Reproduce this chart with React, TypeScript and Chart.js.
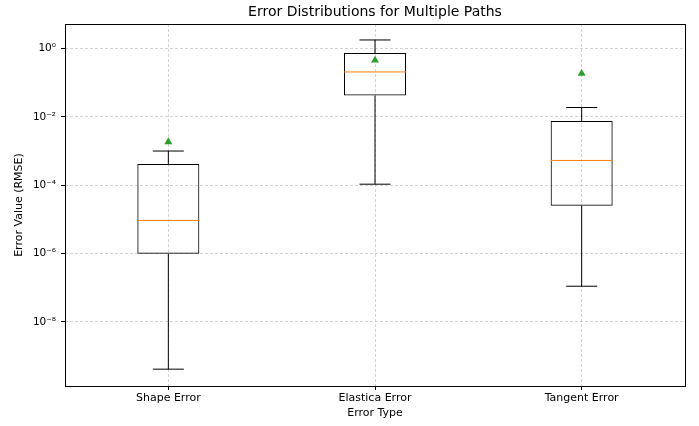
import React, { useEffect, useRef } from 'react';
import { Chart, registerables } from 'chart.js';

Chart.register(...registerables);

const chartTitle = 'Error Distributions for Multiple Paths';
const categories = ['Shape Error', 'Elastica Error', 'Tangent Error'];
const whiskerLow = [4.1e-10, 1.07e-4, 1.1e-7];
const q1 = [9.8e-7, 0.042, 2.48e-5];
const medians = [9.3e-6, 0.207, 5.3e-4];
const q3 = [4.2e-4, 0.74, 0.0076];
const whiskerHigh = [1.0e-3, 1.79, 0.0188];
const means = [1.85e-3, 0.455, 0.186];
const yTickValues = [1e-8, 1e-6, 1e-4, 1e-2, 1];
const yMinExp = -9.88;
const yMaxExp = 0.72;

const SUP: Record<string, string> = {
  '-': '\u207B', '0': '\u2070', '1': '\u00B9', '2': '\u00B2', '3': '\u00B3',
  '4': '\u2074', '5': '\u2075', '6': '\u2076', '7': '\u2077', '8': '\u2078', '9': '\u2079',
};
const toSup = (s: string) => s.split('').map((c) => SUP[c] ?? c).join('');
const logLabel = (v: number) => '10' + toSup(String(Math.round(Math.log10(v))));

const FONT = 'DejaVu Sans';
const GRID = 'rgba(176,176,176,0.7)';

const boxPlugin = {
  id: 'boxParts',
  afterDatasetsDraw(chart: any) {
    const { ctx, chartArea, scales } = chart;
    const xs = scales.x;
    const ys = scales.y;
    const meta = chart.getDatasetMeta(0);
    ctx.save();
    categories.forEach((_, i) => {
      const x = xs.getPixelForValue(i);
      const bar = meta.data[i];
      const half = bar ? bar.width / 2 : 30;
      const cap = half / 2;
      const yLo = ys.getPixelForValue(whiskerLow[i]);
      const yQ1 = ys.getPixelForValue(q1[i]);
      const yQ3 = ys.getPixelForValue(q3[i]);
      const yHi = ys.getPixelForValue(whiskerHigh[i]);
      const yMed = ys.getPixelForValue(medians[i]);
      ctx.strokeStyle = '#000';
      ctx.lineWidth = 1;
      ctx.setLineDash([]);
      ctx.beginPath();
      ctx.moveTo(x, yQ1);
      ctx.lineTo(x, yLo);
      ctx.moveTo(x, yQ3);
      ctx.lineTo(x, yHi);
      ctx.moveTo(x - cap, yLo);
      ctx.lineTo(x + cap, yLo);
      ctx.moveTo(x - cap, yHi);
      ctx.lineTo(x + cap, yHi);
      ctx.stroke();
      ctx.strokeStyle = '#ff7f0e';
      ctx.beginPath();
      ctx.moveTo(x - half, yMed);
      ctx.lineTo(x + half, yMed);
      ctx.stroke();
    });
    ctx.strokeStyle = '#000';
    ctx.lineWidth = 1;
    ctx.strokeRect(
      Math.round(chartArea.left) + 0.5,
      Math.round(chartArea.top) + 0.5,
      Math.round(chartArea.right - chartArea.left),
      Math.round(chartArea.bottom - chartArea.top)
    );
    // title centred over the plot area
    ctx.fillStyle = '#000';
    ctx.font = `14px "${FONT}"`;
    ctx.textAlign = 'center';
    ctx.textBaseline = 'middle';
    ctx.fillText(chartTitle, (chartArea.left + chartArea.right) / 2, 12.5);
    ctx.restore();
  },
};

export default function App() {
  const ref = useRef<HTMLCanvasElement | null>(null);

  useEffect(() => {
    if (!ref.current) return;
    const chart = new Chart(ref.current, {
      type: 'bar',
      data: {
        labels: categories,
        datasets: [
          {
            type: 'bar',
            data: categories.map((_, i) => [q1[i], q3[i]]) as any,
            backgroundColor: 'rgba(0,0,0,0)',
            borderColor: '#000',
            borderWidth: 1,
            borderSkipped: false,
            barPercentage: 0.3,
            categoryPercentage: 1,
          } as any,
          {
            type: 'line',
            data: means,
            showLine: false,
            pointStyle: 'triangle',
            pointRadius: 4.6,
            pointBackgroundColor: '#2ca02c',
            pointBorderColor: '#2ca02c',
            pointBorderWidth: 0,
          } as any,
        ],
      },
      options: {
        responsive: false,
        animation: false,
        devicePixelRatio: 1,
        layout: { padding: { left: 0, right: 14, top: 24, bottom: 0 } },
        plugins: {
          legend: { display: false },
          tooltip: { enabled: false },
          title: { display: false },
        },
        scales: {
          x: {
            type: 'category',
            offset: true,
            grid: {
              offset: false,
              color: GRID,
              lineWidth: 0.8,
              tickColor: '#000',
              tickLength: 4,
              tickWidth: 1,
              tickBorderDash: [],
            },
            border: { display: false, dash: [3, 2] },
            ticks: {
              color: '#000',
              font: { family: FONT, size: 11 },
              padding: 2,
              maxRotation: 0,
              autoSkip: false,
            },
            title: {
              display: true,
              text: 'Error Type',
              color: '#000',
              font: { family: FONT, size: 11 },
              padding: { top: 0, bottom: 6.4 },
            },
            afterFit: (s: any) => {
              s.height = 40;
            },
          },
          y: {
            type: 'logarithmic',
            min: 10 ** yMinExp,
            max: 10 ** yMaxExp,
            afterBuildTicks: (s: any) => {
              s.ticks = yTickValues.map((v) => ({ value: v }));
            },
            grid: {
              color: GRID,
              lineWidth: 0.8,
              tickColor: '#000',
              tickLength: 4,
              tickWidth: 1,
              tickBorderDash: [],
            },
            border: { display: false, dash: [3, 2] },
            ticks: {
              color: '#000',
              font: { family: FONT, size: 10.5 },
              padding: 5,
              autoSkip: false,
              callback: (v: any) => logLabel(Number(v)),
            },
            title: {
              display: true,
              text: 'Error Value (RMSE)',
              color: '#000',
              font: { family: FONT, size: 11 },
              padding: { top: 12.1, bottom: 0 },
            },
            afterFit: (s: any) => {
              s.width = 65;
            },
          },
        },
      } as any,
      plugins: [boxPlugin],
    });
    return () => chart.destroy();
  }, []);

  return (
    <div style={{ position: 'absolute', left: 0, top: 0, width: 699, height: 426, background: '#fff' }}>
      <canvas ref={ref} width={699} height={426} style={{ display: 'block', width: 699, height: 426 }} />
    </div>
  );
}
